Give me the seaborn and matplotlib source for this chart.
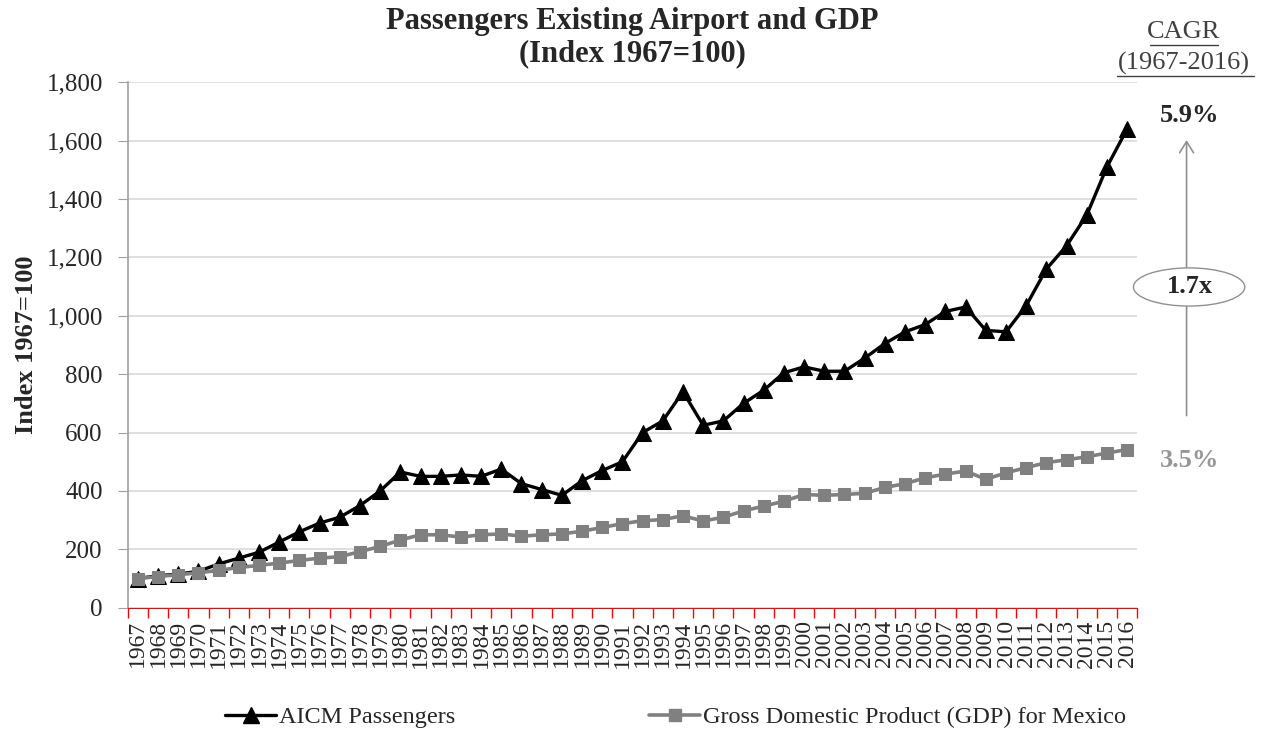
import matplotlib.pyplot as plt
import matplotlib.ticker as ticker
from matplotlib.patches import Ellipse, FancyArrowPatch
from matplotlib.lines import Line2D
import pandas as pd
import seaborn as sns

# Data (Index 1967=100)
years = list(range(1967, 2017))
aicm_passengers = [100, 110, 115, 125, 150, 170, 190, 225, 260, 290,
                   310, 350, 400, 465, 450, 450, 455, 450, 475, 425,
                   405, 385, 435, 470, 500, 600, 640, 740, 625, 640,
                   700, 745, 805, 825, 810, 810, 855, 905, 945, 970,
                   1015, 1030, 950, 945, 1035, 1160, 1240, 1345, 1510, 1640]
gdp_mexico = [100, 107, 113, 120, 128, 138, 145, 153, 162, 170,
              175, 192, 210, 232, 250, 250, 242, 250, 253, 245,
              250, 253, 262, 275, 288, 298, 302, 315, 297, 310,
              332, 348, 365, 388, 385, 388, 392, 412, 425, 445,
              458, 468, 440, 462, 480, 497, 507, 517, 530, 542]
series_names = ['AICM Passengers', 'Gross Domestic Product (GDP) for Mexico']
cagr_labels = ['5.9%', '3.5%']
multiple_label = '1.7x'

df = pd.DataFrame({'year': years, 'aicm': aicm_passengers, 'gdp': gdp_mexico})

sns.set_style("white")
plt.rcParams['font.family'] = ['Liberation Serif', 'DejaVu Serif']

fig = plt.figure(figsize=(12.65, 7.34), dpi=100)
ax = fig.add_axes([0.101, 0.172, 0.798, 0.716])

sns.lineplot(data=df, x='year', y='aicm', ax=ax, color='black', linewidth=2.4,
             marker='^', markersize=12, markeredgecolor='black', label=series_names[0])
sns.lineplot(data=df, x='year', y='gdp', ax=ax, color='#808080', linewidth=2.6,
             marker='s', markersize=8, markeredgecolor='#808080', label=series_names[1])

ax.set_ylim(0, 1800)
ax.set_xlim(years[0] - 0.5, years[-1] + 0.5)
ax.yaxis.set_major_locator(ticker.MultipleLocator(200))
ax.yaxis.set_major_formatter(ticker.FuncFormatter(lambda v, p: f'{int(v):,}'))
ax.grid(axis='y', color='#d9d9d9', linewidth=1.2)
ax.set_axisbelow(True)

# categories centred between red boundary ticks, Excel style
ax.set_xticks(years)
ax.set_xticklabels([str(y) for y in years], rotation=90, fontsize=17)
ax.xaxis.set_minor_locator(ticker.FixedLocator([y - 0.5 for y in years] + [years[-1] + 0.5]))
ax.tick_params(axis='x', which='major', length=0, pad=9)
ax.tick_params(axis='x', which='minor', bottom=True, length=7, color='red', width=1, direction='out')
ax.tick_params(axis='y', which='major', left=True, length=7, color='#a0a0a0', labelsize=18, pad=11)

for s in ['top', 'right']:
    ax.spines[s].set_visible(False)
ax.spines['bottom'].set_color('red')
ax.spines['left'].set_color('#a0a0a0')
ax.spines['left'].set_linewidth(1.2)

ax.set_xlabel('')
ax.set_ylabel('Index 1967=100', fontsize=19, fontweight='bold', labelpad=6)

ax.legend_.remove()
handles = [Line2D([], [], color='black', lw=2.4, marker='^', markersize=12),
           Line2D([], [], color='#808080', lw=2.6, marker='s', markersize=8)]
fig.legend(handles, series_names, loc='center', bbox_to_anchor=(0.534, 0.023), ncol=2,
           frameon=False, fontsize=17.5, columnspacing=8, handlelength=2.1, handletextpad=0.1)

fig.text(0.5, 0.99, 'Passengers Existing Airport and GDP\n(Index 1967=100)', ha='center', va='top',
         fontsize=22, fontweight='bold', linespacing=1.15)

# CAGR annotation on the right
fig.text(0.936, 0.957, 'CAGR', ha='center', va='center', fontsize=19, color='#404040')
fig.text(0.936, 0.914, '(1967-2016)', ha='center', va='center', fontsize=19, color='#404040')
fig.add_artist(Line2D([0.909, 0.963], [0.939, 0.939], color='#404040', lw=1))
fig.add_artist(Line2D([0.883, 0.991], [0.897, 0.897], color='#404040', lw=1))
fig.text(0.940, 0.843, cagr_labels[0], ha='center', va='center', fontsize=19, fontweight='bold')
fig.text(0.940, 0.373, cagr_labels[1], ha='center', va='center', fontsize=19, fontweight='bold',
         color='#969696')
fig.add_artist(FancyArrowPatch((0.938, 0.430), (0.938, 0.813),
               transform=fig.transFigure, arrowstyle='->,head_length=8,head_width=5',
               color='#909090', lw=1.2, mutation_scale=1))
fig.add_artist(Ellipse((0.940, 0.609), 0.088, 0.052, transform=fig.transFigure,
                       facecolor='white', edgecolor='#909090', lw=1))
fig.text(0.941, 0.609, multiple_label, ha='center', va='center', fontsize=19, fontweight='bold')

fig.savefig('out.png', dpi=100)
